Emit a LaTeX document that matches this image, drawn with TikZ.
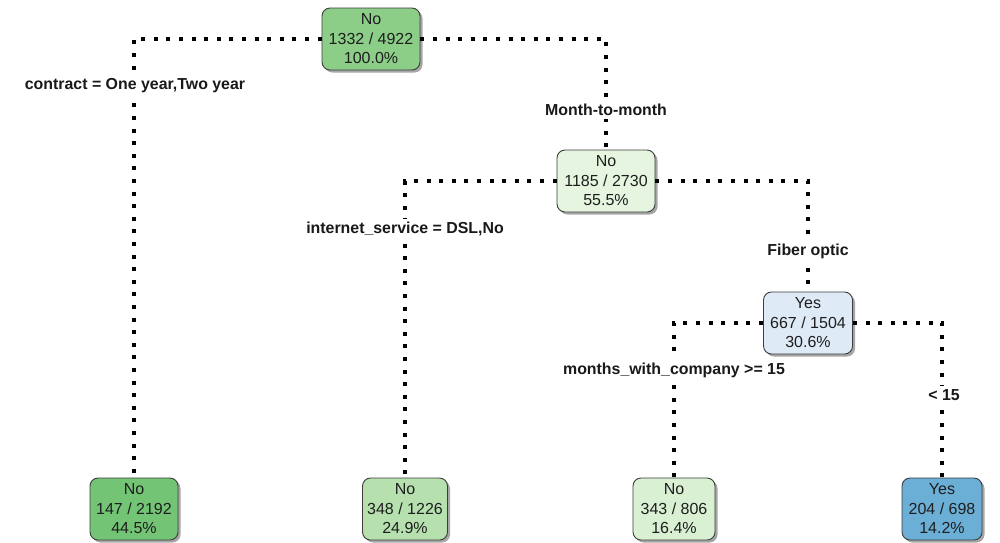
\documentclass[tikz,border=0pt]{standalone}
\usepackage{fontspec}
\setmainfont{Liberation Sans}
\usetikzlibrary{shadows}
\definecolor{cRoot}{RGB}{140,206,136}
\definecolor{cNtwo}{RGB}{229,245,224}
\definecolor{cNthree}{RGB}{222,235,247}
\definecolor{cLone}{RGB}{116,196,118}
\definecolor{cLtwo}{RGB}{182,225,175}
\definecolor{cLthree}{RGB}{217,240,211}
\definecolor{cLfour}{RGB}{107,174,214}
\definecolor{boxline}{RGB}{60,60,60}
\definecolor{boxtext}{RGB}{30,30,30}
\tikzset{
  treebox/.style={draw=boxline, line width=0.9pt, rounded corners=8pt,
    minimum height=62pt, inner sep=1pt, align=center, text=boxtext,
    font=\fontsize{16}{19.5}\selectfont,
    drop shadow={shadow xshift=2.5pt, shadow yshift=-2.5pt, fill=black!50, opacity=0.7}},
  dotline/.style={line width=4pt, dash pattern=on 4pt off 8.6pt, black},
  splitlabel/.style={fill=white, inner sep=3pt, font=\fontsize{15.9}{18}\selectfont\bfseries, text=black!90}
}
\begin{document}
\begin{tikzpicture}[x=1pt,y=-1pt]
\useasboundingbox (0,0) rectangle (1000,542);
% boxes
\node[treebox, fill=cRoot, minimum width=98pt] (root) at (371,39) {No\\1332 / 4922\\100.0\%};
\node[treebox, fill=cNtwo, minimum width=98pt] (n2) at (606,181) {No\\1185 / 2730\\55.5\%};
\node[treebox, fill=cNthree, minimum width=89pt] (n3) at (808,323) {Yes\\667 / 1504\\30.6\%};
\node[treebox, fill=cLone, minimum width=88pt] (l1) at (134,509) {No\\147 / 2192\\44.5\%};
\node[treebox, fill=cLtwo, minimum width=85pt] (l2) at (405,509) {No\\348 / 1226\\24.9\%};
\node[treebox, fill=cLthree, minimum width=82pt] (l3) at (674,509) {No\\343 / 806\\16.4\%};
\node[treebox, fill=cLfour, minimum width=80pt] (l4) at (942,509) {Yes\\204 / 698\\14.2\%};
% connectors
\draw[dotline] (root.west) -| (l1.north);
\draw[dotline] (root.east) -| (n2.north);
\draw[dotline] (n2.west) -| (l2.north);
\draw[dotline] (n2.east) -| (n3.north);
\draw[dotline] (n3.west) -| (l3.north);
\draw[dotline] (n3.east) -| (l4.north);
% labels
\node[splitlabel] (lab1) at (135,86) {contract = One year,Two year};
\node[splitlabel] (lab2) at (606,110) {Month-to-month};
\node[splitlabel] (lab3) at (405,229) {internet\_service = DSL,No};
\node[splitlabel] (lab4) at (808,251) {Fiber optic};
\node[splitlabel] (lab5) at (674,370) {months\_with\_company >= 15};
\node[splitlabel] (lab6) at (944,395) {< 15};
\end{tikzpicture}
\end{document}
